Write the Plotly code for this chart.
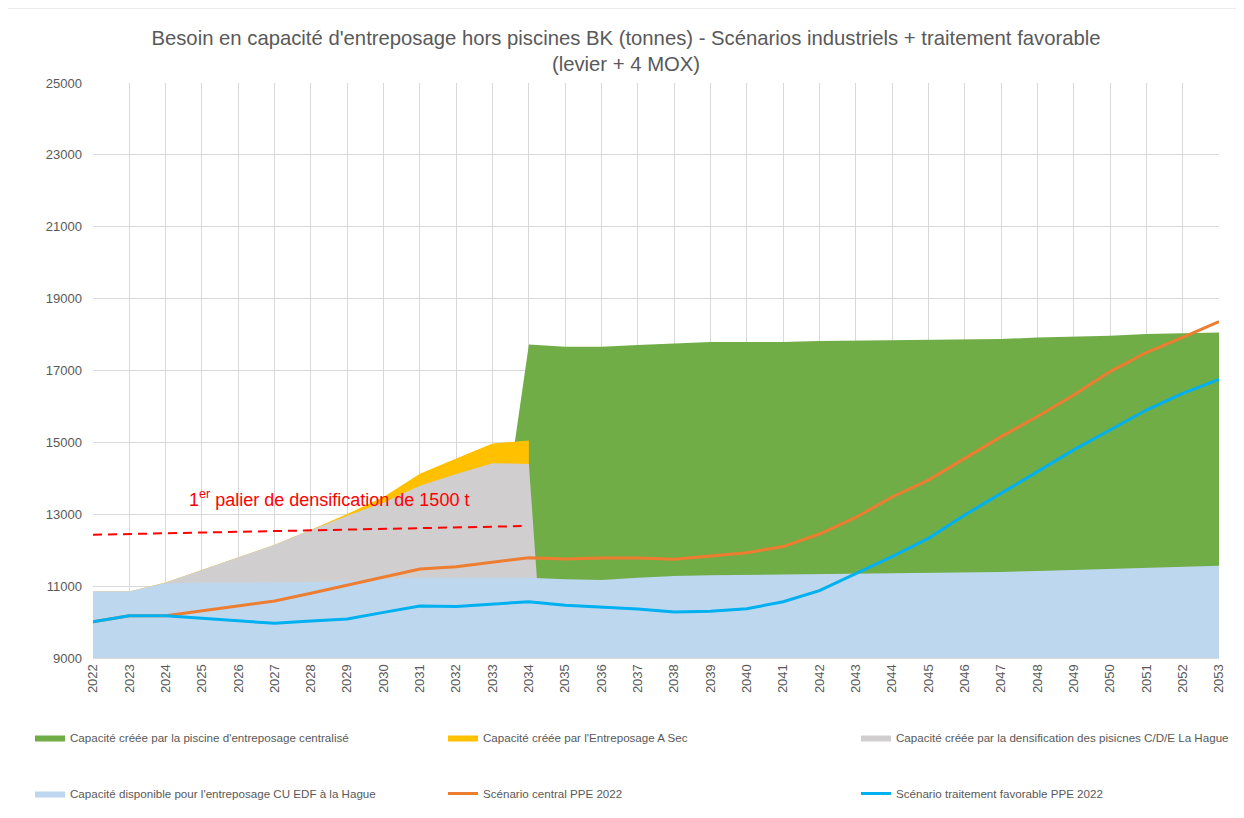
import plotly.graph_objects as go

years = list(range(2022, 2054))

# Area tops (absolute values, tonnes)
green_top = [0, 0, 0, 0, 0, 0, 0, 0, 0, 0, 0, 10700,
             17720, 17660, 17660, 17710, 17760, 17790, 17790, 17790, 17820, 17830,
             17850, 17850, 17860, 17875, 17920, 17940, 17970, 18015, 18035, 18060]
yellow_top = [10850, 10850, 11100, 11450, 11790, 12150, 12570, 13010, 13480, 14130,
              14550, 14970, 15050] + [None] * 19
gray_top = [10850, 10850, 11100, 11450, 11790, 12150, 12560, 12960, 13330, 13790,
            14120, 14420, 14400, 0] + [None] * 18
blue_top = [10850, 10850, 11070, 11100, 11100, 11100, 11115, 11135, 11200, 11235,
            11235, 11255, 11235, 11190, 11170, 11230, 11280, 11300, 11310, 11320,
            11330, 11340, 11355, 11375, 11385, 11395, 11420, 11450, 11475, 11515,
            11540, 11570]
central = [10010, 10177, 10177, 10317, 10447, 10586, 10800, 11030, 11262, 11476,
           11540, 11660, 11790, 11755, 11780, 11780, 11745, 11840, 11930, 12100,
           12450, 12910, 13480, 13950, 14555, 15160, 15720, 16320, 16970, 17500,
           17925, 18360]
favorable = [10010, 10177, 10177, 10105, 10040, 9965, 10030, 10085, 10270, 10447,
             10430, 10495, 10567, 10465, 10410, 10363, 10280, 10300, 10370, 10567,
             10873, 11337, 11820, 12330, 12980, 13580, 14185, 14790, 15345, 15900,
             16365, 16755]

y_ticks = list(range(9000, 25001, 2000))
y_ticklabels = [str(v) for v in y_ticks]

names = [
    "Capacité créée par la piscine d'entreposage centralisé",
    "Capacité créée par l'Entreposage A Sec",
    "Capacité créée par la densification des pisicnes C/D/E La Hague",
    "Capacité disponible pour l'entreposage CU EDF à la Hague",
    "Scénario central PPE 2022",
    "Scénario traitement favorable PPE 2022",
]
colors = ["#70AD47", "#FFC000", "#D0CECE", "#BDD7EE", "#ED7D31", "#00B0F0"]
legend_of = ["legend", "legend2", "legend3", "legend", "legend2", "legend3"]

palier_x = [2022, 2033.8]
palier_y = [12430, 12670]

FONT = "Liberation Sans, Arial, sans-serif"
GRAY = "#595959"

W, H = 1236, 810  # page has an 8px body margin

fig = go.Figure()
areas = [green_top, yellow_top, gray_top, blue_top]
for i, vals in enumerate(areas):
    fig.add_trace(go.Scatter(
        x=years, y=vals, name=names[i], mode="lines",
        line=dict(width=0, color=colors[i]), fill="tozeroy",
        fillcolor=colors[i], legend=legend_of[i], legendgroup=f"g{i}",
        hoverinfo="skip"))
for i, vals in [(4, central), (5, favorable)]:
    fig.add_trace(go.Scatter(
        x=years, y=vals, name=names[i], mode="lines",
        line=dict(width=3, color=colors[i]), legend=legend_of[i],
        legendgroup=f"g{i}"))

X0, X1, Y0, Y1 = 93, 1219, 658, 83
def px(x):
    return (x - X0) / (X1 - X0)
def py(y):
    return (Y0 - y) / (Y0 - Y1)

shapes = [
    dict(type="line", xref="x", yref="y", x0=palier_x[0], y0=palier_y[0],
         x1=palier_x[1], y1=palier_y[1],
         line=dict(color="#FF0000", width=2, dash="9px,6px")),
    dict(type="path", xref="paper", yref="paper",
         path=f"M {px(7)} {py(830)} L {px(7)} {py(8)} L {px(1260)} {py(8)}",
         line=dict(color="#D9D9D9", width=1)),
]

def leg(text_x):
    return dict(orientation="v", xref="container", yref="container",
                x=(text_x - 8 - 40) / W, y=1 - (723 - 8) / H,
                xanchor="left", yanchor="top", traceorder="grouped",
                tracegroupgap=37, itemwidth=30,
                font=dict(size=11.6, color=GRAY, family=FONT),
                bgcolor="rgba(0,0,0,0)")

fig.update_layout(
    width=W, height=H,
    margin=dict(l=85, r=25, t=75, b=160, autoexpand=False),
    paper_bgcolor="white", plot_bgcolor="white",
    font=dict(family=FONT, color=GRAY, size=13),
    title=dict(
        text="Besoin en capacité d'entreposage hors piscines BK (tonnes) - Scénarios industriels + traitement favorable<br>(levier + 4 MOX)",
        x=0.5, xref="container", xanchor="center",
        y=1 - 37 / H, yref="container", yanchor="top",
        font=dict(size=20.3, color=GRAY, family=FONT)),
    xaxis=dict(range=[2022, 2053], tickvals=years, ticktext=[str(y) for y in years],
               tickangle=-90, showgrid=True, gridcolor="#D9D9D9", gridwidth=1,
               zeroline=False, showline=True, linecolor="#D9D9D9",
               tickfont=dict(family=FONT, size=13, color=GRAY), ticks=""),
    yaxis=dict(range=[9000, 25000], tickvals=y_ticks, ticktext=y_ticklabels,
               showgrid=True, gridcolor="#D9D9D9", zeroline=False,
               tickfont=dict(family=FONT, size=13, color=GRAY),
               ticklabelstandoff=10, ticks=""),
    legend=leg(70),
    legend2=leg(483),
    legend3=leg(896),
    shapes=shapes,
    annotations=[dict(
        x=2028.5, y=13450, xref="x", yref="y",
        text="1<sup>er</sup> palier de densification de 1500 t",
        showarrow=False, font=dict(family=FONT, size=18, color="#FF0000"))],
)

fig.write_html("out.html")
